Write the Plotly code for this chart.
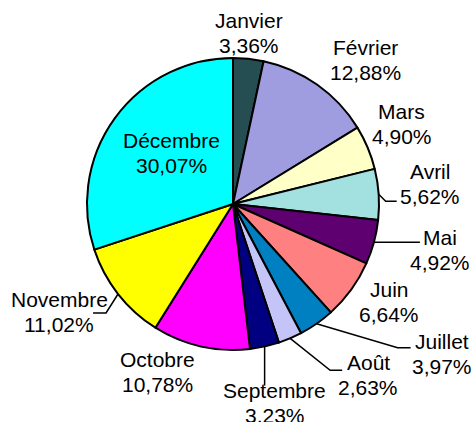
import math
import plotly.graph_objects as go

months = ["Janvier", "Février", "Mars", "Avril", "Mai", "Juin", "Juillet",
          "Août", "Septembre", "Octobre", "Novembre", "Décembre"]
shares = [3.36, 12.88, 4.90, 5.62, 4.92, 6.64, 3.97, 2.63, 3.23, 10.78, 11.02, 30.07]
colors = ["#254E52", "#9F9DDF", "#FFFFC8", "#A3E0E0", "#5E0070", "#FF8080",
          "#0080C0", "#C4C4F8", "#000080", "#FF00FF", "#FFFF00", "#00FFFF"]

# label offsets (px) from the slice's outer-edge mid point
label_off = [(0.6, -26), (48.6, -25), (34, -24), (51, -10), (66, 8), (38, 12),
             (125, 30), (78, 37), (10, 56), (-43, 26), (-59, 18), (57, 35)]
# leader-line waypoints (px) relative to the edge point; None = no line
leaders = [None, None, None, [(0, 0), (7, 7), (18, 7)], [(0, 0), (46, 0)], None,
           [(0, 0), (81, 24), (94, 24)], [(0, 0), (40, 32), (52, 32)],
           [(0, 0), (0, 39)], None, [(0, 0), (-12, 19), (-25, 19)], None]

W, H = 472, 422
CX, CY, R = 233, 204, 146
LINE = 25
FONT = dict(family="Liberation Sans, Arial", size=21, color="black")


def px(x, y):
    return x / W, 1 - y / H


fig = go.Figure(go.Pie(
    labels=months, values=shares, sort=False, direction="clockwise", rotation=0,
    marker=dict(colors=colors, line=dict(color="black", width=2)),
    textinfo="none", hoverinfo="label+percent", showlegend=False,
    domain=dict(x=[(CX - R) / W, (CX + R) / W], y=[(H - CY - R) / H, (H - CY + R) / H]),
))

total = sum(shares)
cum = 0.0
annotations = []
shapes = []
for m, v, off, lead in zip(months, shares, label_off, leaders):
    mid = (cum + v / 2) / total * 2 * math.pi
    cum += v
    ex, ey = CX + R * math.sin(mid), CY - R * math.cos(mid)
    cx_, cy_ = ex + off[0], ey + off[1]
    for txt, dy in ((m, -LINE / 2), (f"{v:.2f}%".replace(".", ","), LINE / 2)):
        lx, ly = px(cx_, cy_ + dy)
        annotations.append(dict(x=lx, y=ly, xref="paper", yref="paper", text=txt,
                                showarrow=False, xanchor="center", yanchor="middle",
                                font=FONT))
    if lead:
        pts = [px(ex + dx, ey + dy) for dx, dy in lead]
        path = "M " + " L ".join(f"{a:.5f} {b:.5f}" for a, b in pts)
        shapes.append(dict(type="path", path=path, xref="paper", yref="paper",
                           line=dict(color="black", width=1.5)))

fig.update_layout(width=W, height=H, margin=dict(l=0, r=0, t=0, b=0),
                  paper_bgcolor="white", plot_bgcolor="white",
                  annotations=annotations, shapes=shapes)
fig.write_html("out.html", config={"displayModeBar": False},
               post_script="document.body.style.margin='0';document.body.style.overflow='hidden';")
